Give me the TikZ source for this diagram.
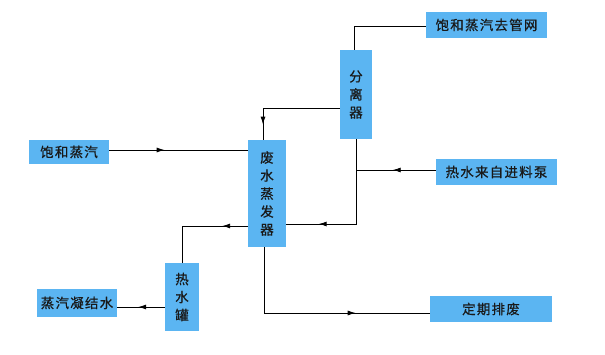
\documentclass[tikz,border=0pt]{standalone}
\usepackage{fontspec}
\newfontfamily\cjk[LetterSpace=9,FakeBold=0.6]{Noto Sans CJK SC}
\usetikzlibrary{arrows.meta,decorations.markings}
\definecolor{boxblue}{HTML}{5BB5F2}
\tikzset{
  box/.style={fill=boxblue, draw=none, inner sep=0pt, font=\cjk\fontsize{13.5}{18}\selectfont, text=black!90, align=center},
  conn/.style={draw=black, line width=0.9pt},
  midarrow/.style={postaction={decorate,decoration={markings,mark=at position #1 with {\arrow{Latex[length=8pt,width=5pt]}}}}}
}
\begin{document}
\begin{tikzpicture}[x=1pt,y=-1pt]
\useasboundingbox (0,0) rectangle (605,355);
% boxes
\node[box, minimum width=121, minimum height=26] (net) at (486.5,25) {饱和蒸汽去管网};
\node[box, minimum width=32, minimum height=89] (sep) at (356,94.5) {分\\离\\器};
\node[box, minimum width=121, minimum height=26] (pump) at (496.5,172) {热水来自进料泵};
\node[box, minimum width=80, minimum height=24] (steam) at (69,152) {饱和蒸汽};
\node[box, minimum width=38, minimum height=107] (evap) at (267,193.5) {废\\水\\蒸\\发\\器};
\node[box, minimum width=34, minimum height=68] (tank) at (182,297) {热\\水\\罐};
\node[box, minimum width=80, minimum height=28] (cond) at (77,303) {蒸汽凝结水};
\node[box, minimum width=122, minimum height=26] (waste) at (491,309) {定期排废};
% connectors
\draw[conn] ([yshift=-1pt]net.west) -| ([xshift=-2pt]sep.north);
\draw[conn, midarrow=0.86] ([yshift=-13.5pt]sep.west) -| ([xshift=-4pt]evap.north);
\draw[conn, midarrow=0.40] ([yshift=2pt]steam.east) -- ([yshift=2pt]steam.east -| evap.west);
\draw[conn, midarrow=0.79] (sep.south) |- ([yshift=-30.5pt]evap.east);
\coordinate (j) at ([yshift=2pt]pump.west -| sep.south);
\draw[conn, midarrow=0.54] ([yshift=2pt]pump.west) -- (j);
\draw[conn, midarrow=0.25] ([yshift=-32.5pt]evap.west) -| (tank.north);
\draw[conn, midarrow=0.56] ([yshift=-10pt]tank.west) -- ([yshift=-10pt]tank.west -| cond.east);
\draw[conn, midarrow=0.68] ([xshift=-3pt]evap.south) |- ([yshift=-4pt]waste.west);
\end{tikzpicture}
\end{document}
